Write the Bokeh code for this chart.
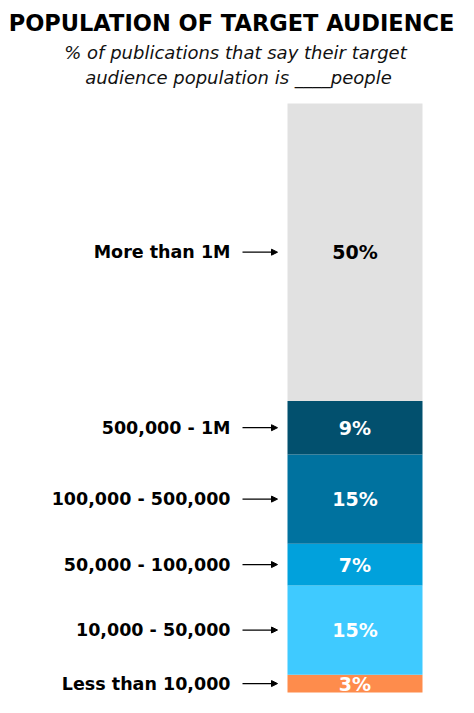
from bokeh.plotting import figure
from bokeh.models import ColumnDataSource, Label, Arrow, NormalHead
from bokeh.embed import file_html
from bokeh.resources import INLINE
from bokeh.core.properties import value

# ---- data (bottom to top) ----
categories = ["Less than 10,000", "10,000 - 50,000", "50,000 - 100,000",
              "100,000 - 500,000", "500,000 - 1M", "More than 1M"]
shares = [3, 15, 7, 15, 9, 50]
pct_labels = ["3%", "15%", "7%", "15%", "9%", "50%"]
colors = ["#fe8c4c", "#3fcaff", "#01a1dc", "#00729f", "#02506e", "#e1e1e1"]
text_colors = ["white", "white", "white", "white", "white", "black"]

bottoms, tops, mids = [], [], []
acc = 0
for s in shares:
    bottoms.append(acc)
    tops.append(acc + s)
    mids.append(acc + s / 2)
    acc += s

W, H = 458, 697
BAR_X, BAR_W = 354.5, 135
LABEL_X = 230
ARROW_X0, ARROW_X1 = 242, 277

src = ColumnDataSource(dict(cat=categories, bottom=bottoms, top=tops, mid=mids,
                            color=colors, pct=pct_labels, tcolor=text_colors,
                            ax0=[ARROW_X0] * 6, ax1=[ARROW_X1] * 6,
                            lx=[LABEL_X] * 6, bx=[BAR_X] * 6))

p = figure(width=W, height=H, output_backend="svg", toolbar_location=None,
           x_range=(0, W), y_range=(-0.84, 116.3), min_border=0,
           outline_line_color=None, background_fill_color="white",
           border_fill_color="white")
p.axis.visible = False
p.grid.visible = False

p.vbar(x="bx", width=BAR_W, bottom="bottom", top="top", fill_color="color",
       line_color=None, source=src)

p.text(x="bx", y="mid", text="pct", text_color="tcolor", source=src,
       text_font=value("DejaVu Sans"), text_font_style="bold",
       text_font_size="19px", text_align="center", text_baseline="middle")

p.text(x="lx", y="mid", text="cat", text_color="black", source=src,
       text_font=value("DejaVu Sans"), text_font_style="bold",
       text_font_size="17.5px", text_align="right", text_baseline="middle")

p.add_layout(Arrow(x_start="ax0", y_start="mid", x_end="ax1", y_end="mid",
                   source=src, line_color="black", line_width=1.2,
                   end=NormalHead(size=6, fill_color="black", line_color="black")))

p.add_layout(Label(x=W / 2 + 2, y=H - 22, x_units="screen", y_units="screen",
                   text="POPULATION OF TARGET AUDIENCE", text_align="center",
                   text_baseline="middle", text_font="DejaVu Sans",
                   text_font_style="bold", text_font_size="22.5px", text_color="black"))
p.add_layout(Label(x=235, y=H - 52, x_units="screen", y_units="screen",
                   text="% of publications that say their target", text_align="center",
                   text_baseline="middle", text_font="DejaVu Sans",
                   text_font_style="italic", text_font_size="18px", text_color="#111111"))
p.add_layout(Label(x=238, y=H - 77, x_units="screen", y_units="screen",
                   text="audience population is ____people", text_align="center",
                   text_baseline="middle", text_font="DejaVu Sans",
                   text_font_style="italic", text_font_size="18px", text_color="#111111"))

open("out.html", "w").write(file_html(p, INLINE))
